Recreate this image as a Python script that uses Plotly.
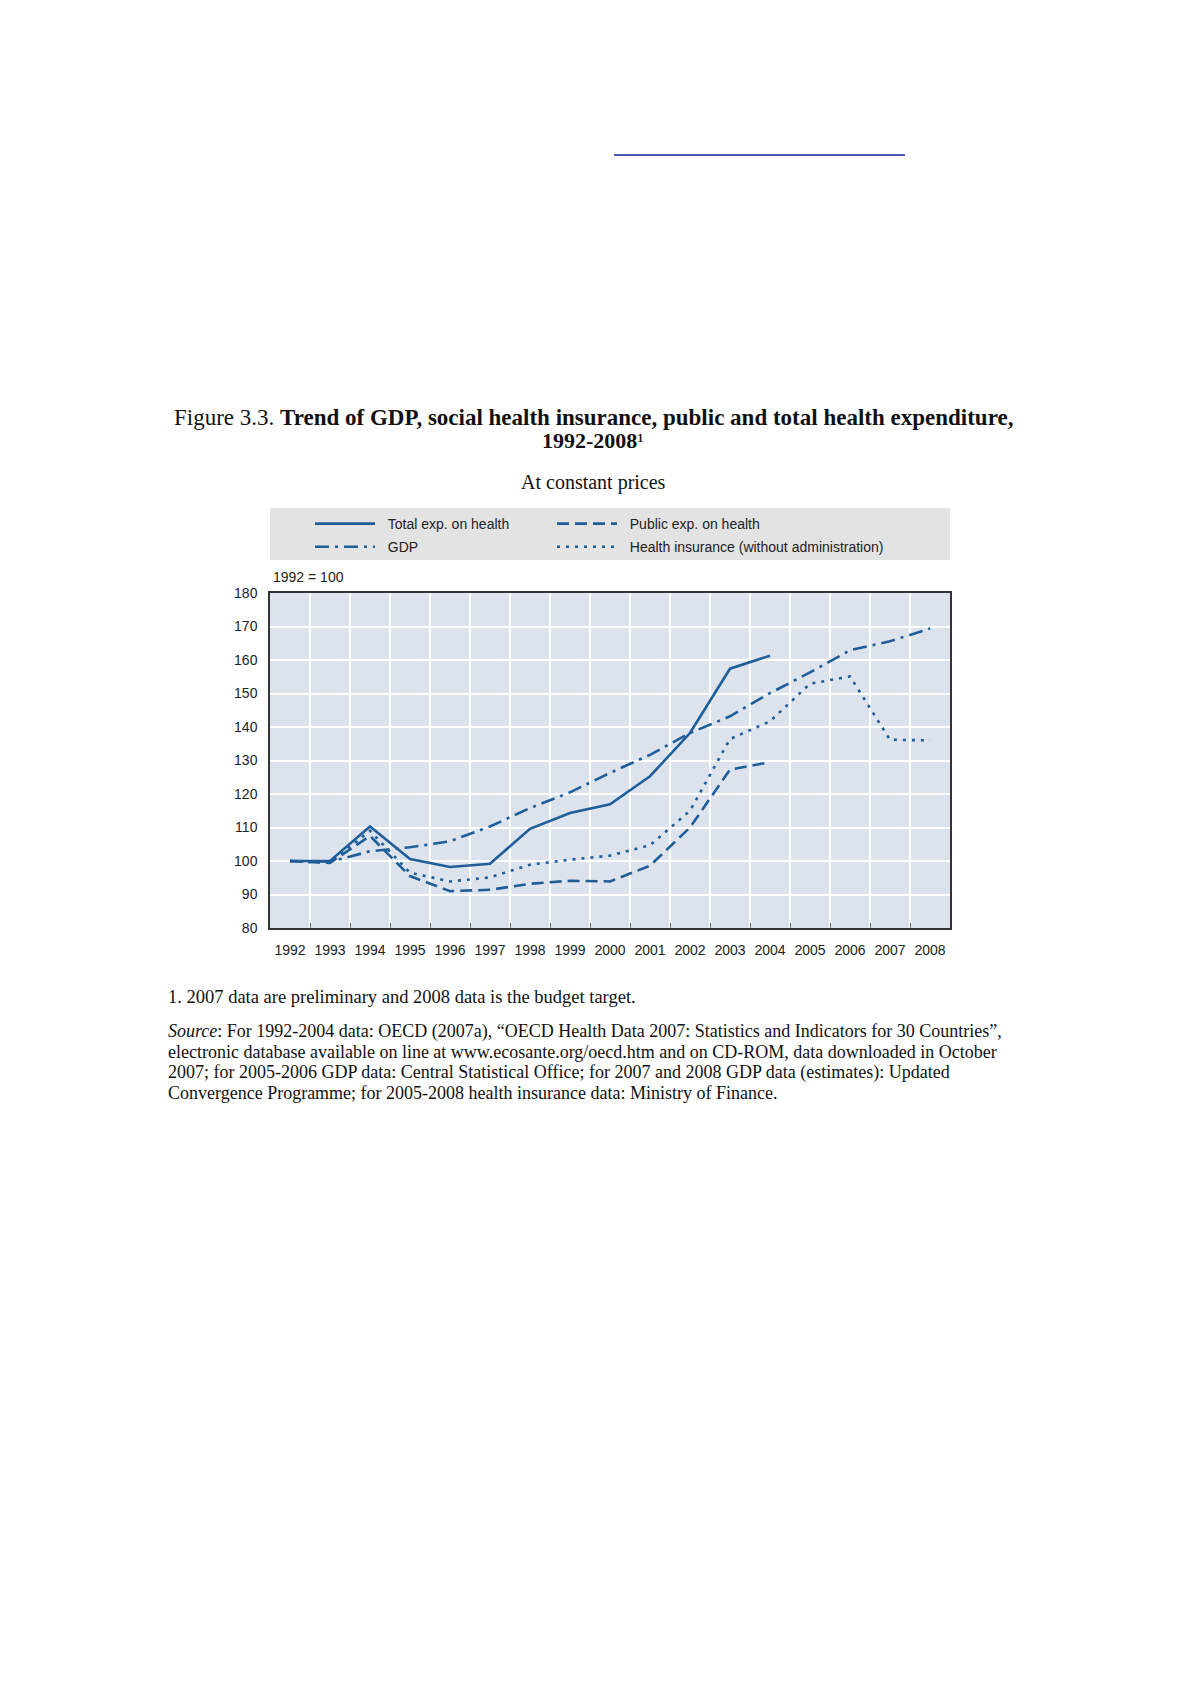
import plotly.graph_objects as go

years = [str(y) for y in range(1992, 2009)]
total_exp = [100, 100, 110.3, 100.6, 98.2, 99.2, 109.6, 114.3, 116.9, 125.3, 138.2, 157.4, 161.3, None, None, None, None]
public_exp = [100, 99.4, 107.5, 95.5, 91.0, 91.4, 93.2, 94.1, 93.9, 98.6, 110.0, 127.3, 129.5, None, None, None, None]
gdp = [100, 99.8, 102.9, 104.1, 105.9, 110.3, 115.8, 120.5, 126.3, 131.7, 138.2, 143.2, 150.1, 156.3, 162.9, 165.6, 169.4]
health_ins = [100, 99.5, 109.0, 96.5, 93.9, 95.1, 98.9, 100.4, 101.6, 104.7, 115.0, 136.4, 141.7, 152.9, 155.1, 136.2, 136.0]
y_ticks = list(range(80, 181, 10))

BLUE = "#1f5e99"
W, H = 1190, 1684
OFF = 8  # page body margin
PL, PR, PT, PB = 270, 950, 593, 928


def px(x):
    return (x - PL) / (PR - PL)


def py(y):
    return (PB - y) / (PB - PT)


fig = go.Figure()
series = [
    ("\u00a0\u00a0Total exp. on health", total_exp, "solid", "legend", "a"),
    ("\u00a0\u00a0GDP", gdp, "14px,6px,3px,6px", "legend", "b"),
    ("\u00a0\u00a0Public exp. on health", public_exp, "12px,6px", "legend2", "c"),
    ("\u00a0\u00a0Health insurance (without administration)", health_ins, "3px,6px", "legend2", "d"),
]
for name, vals, dash, lg, grp in series:
    fig.add_trace(go.Scatter(
        x=years, y=vals, name=name, mode="lines",
        line=dict(color=BLUE, width=2.6, dash=dash),
        legend=lg, legendgroup=grp, connectgaps=False,
    ))

legend_font = dict(family="Liberation Sans Narrow, Arial Narrow, Liberation Sans, sans-serif", size=14, color="#222")

fig.update_layout(
    width=W - 2 * OFF, height=H - 2 * OFF,
    margin=dict(l=PL - OFF, r=W - PR - OFF, t=PT - OFF, b=H - PB - OFF, pad=0),
    paper_bgcolor="white",
    plot_bgcolor="#dce3ec",
    showlegend=True,
    legend=dict(x=px(310), y=py(508), xanchor="left", yanchor="top",
                bgcolor="rgba(0,0,0,0)", font=legend_font, itemwidth=60,
                tracegroupgap=2),
    legend2=dict(x=px(552), y=py(508), xanchor="left", yanchor="top",
                 bgcolor="rgba(0,0,0,0)", font=legend_font, itemwidth=60,
                 tracegroupgap=2),
    xaxis=dict(
        type="category", range=[-0.5, 16.5], tickson="boundaries", tickangle=0,
        showgrid=True, gridcolor="white", gridwidth=1.5,
        ticks="inside", ticklen=5, tickcolor="#666", tickwidth=1,
        showline=True, linecolor="#333", linewidth=1.5, mirror=True,
        tickfont=dict(family="Liberation Sans, Arial, sans-serif", size=14, color="#222"),
        zeroline=False, ticklabelstandoff=8,
    ),
    yaxis=dict(
        range=[80, 180], tickvals=y_ticks,
        showgrid=True, gridcolor="white", gridwidth=1.5,
        ticks="", showline=True, linecolor="#333", linewidth=1.5, mirror=True,
        tickfont=dict(family="Liberation Sans, Arial, sans-serif", size=14, color="#222"),
        zeroline=False, ticklabelstandoff=8,
    ),
)

# legend background box
fig.add_shape(type="rect", xref="paper", yref="paper",
              x0=0, x1=1, y0=py(560), y1=py(508),
              fillcolor="#e3e3e3", line=dict(width=0), layer="below")

# link underline at top of page
fig.add_shape(type="line", xref="paper", yref="paper",
              x0=px(614), x1=px(905), y0=py(155), y1=py(155),
              line=dict(color="#1a1aa0", width=1.5))

serif = "Liberation Serif, Times New Roman, serif"


def note(x, y, text, size, anchor="left"):
    fig.add_annotation(xref="paper", yref="paper", x=px(x), y=py(y), xanchor=anchor, yanchor="middle",
                       text=text, showarrow=False, align=anchor,
                       font=dict(family=serif, size=size, color="#111"))


note(593, 417, "Figure 3.3. <b>Trend of GDP, social health insurance, public and total health expenditure,</b>", 23, "center")
note(593, 440, "<b>1992-2008</b>\u00b9", 22, "center")
note(593, 482, "At constant prices", 20, "center")
fig.add_annotation(xref="paper", yref="paper", x=px(271), y=py(577), xanchor="left", yanchor="middle",
                   text="1992 = 100", showarrow=False,
                   font=dict(family="Liberation Sans, Arial, sans-serif", size=14, color="#222"))
note(166, 997, "1. 2007 data are preliminary and 2008 data is the budget target.", 18.5)
source_lines = [
    "<i>Source</i>: For 1992-2004 data: OECD (2007a), \u201cOECD Health Data 2007: Statistics and Indicators for 30 Countries\u201d,",
    "electronic database available on line at www.ecosante.org/oecd.htm and on CD-ROM, data downloaded in October",
    "2007; for 2005-2006 GDP data: Central Statistical Office; for 2007 and 2008 GDP data (estimates): Updated",
    "Convergence Programme; for 2005-2008 health insurance data: Ministry of Finance.",
]
for i, line in enumerate(source_lines):
    note(166, 1031 + i * 20.7, line, 18)

fig.write_html("out.html")
